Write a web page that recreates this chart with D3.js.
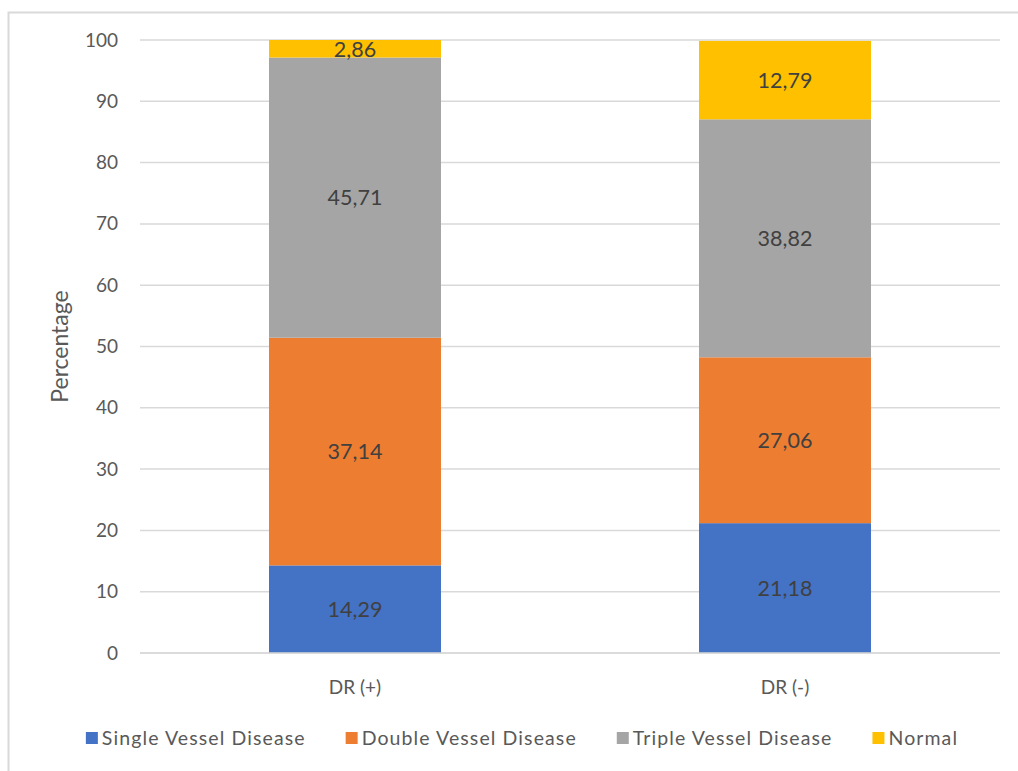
<!DOCTYPE html>
<html>
<head>
<meta charset="utf-8">
<script src="https://cdn.jsdelivr.net/npm/d3@7"></script>
<style>
  html, body { margin: 0; padding: 0; background: #fff; }
  svg { display: block; font-family: Lato, "Open Sans", "Liberation Sans", sans-serif; }
</style>
</head>
<body>
<svg id="chart" width="1018" height="771"></svg>
<script>
// Coronary findings by diabetic retinopathy status (percent of patients)
const groups = ["DR (+)", "DR (-)"];
const seriesNames = ["Single Vessel Disease", "Double Vessel Disease", "Triple Vessel Disease", "Normal"];
const seriesColors = ["#4472C4", "#ED7D31", "#A5A5A5", "#FFC000"];
const singleVessel = [14.29, 21.18];
const doubleVessel = [37.14, 27.06];
const tripleVessel = [45.71, 38.82];
const normal = [2.86, 12.79];
const yTicks = [0, 10, 20, 30, 40, 50, 60, 70, 80, 90, 100];
const yLabel = "Percentage";

const seriesValues = [singleVessel, doubleVessel, tripleVessel, normal];
const rows = groups.map((g, i) => {
  const r = { group: g };
  seriesNames.forEach((s, k) => { r[s] = seriesValues[k][i]; });
  return r;
});
const stacked = d3.stack().keys(seriesNames)(rows);

const svg = d3.select("#chart");
const W = 1018, H = 771;
const plot = { left: 140, right: 1000, top: 40, bottom: 653 };

// outer chart frame
svg.append("rect")
  .attr("x", 8.5).attr("y", 12.5)
  .attr("width", W + 20).attr("height", H + 20)
  .attr("fill", "none").attr("stroke", "#D9D9D9").attr("stroke-width", 2);

const x = d3.scaleBand().domain(groups)
  .range([plot.left, plot.right]).paddingInner(0.6).paddingOuter(0.3);
const y = d3.scaleLinear().domain([0, 100]).range([plot.bottom, plot.top]);

// gridlines
svg.append("g")
  .selectAll("line").data(yTicks).join("line")
  .attr("x1", plot.left).attr("x2", plot.right)
  .attr("y1", d => y(d)).attr("y2", d => y(d))
  .attr("stroke", "#D9D9D9").attr("stroke-width", 1.5);

// y axis labels
const yAxis = svg.append("g")
  .attr("transform", `translate(${plot.left - 22},0)`)
  .call(d3.axisLeft(y).tickValues(yTicks).tickSize(0).tickPadding(0));
yAxis.select(".domain").remove();
yAxis.selectAll("text")
  .attr("font-size", 19).attr("fill", "#595959")
  .attr("font-family", "Lato, 'Open Sans', sans-serif");

// bars
const layer = svg.append("g").selectAll("g").data(stacked).join("g")
  .attr("fill", (d, i) => seriesColors[i]);
layer.selectAll("rect").data(d => d).join("rect")
  .attr("x", d => x(d.data.group))
  .attr("width", x.bandwidth())
  .attr("y", d => y(d[1]))
  .attr("height", d => y(d[0]) - y(d[1]));

// value labels
const fmt = v => v.toFixed(2).replace(".", ",");
stacked.forEach((s, k) => {
  svg.append("g").selectAll("text").data(s).join("text")
    .attr("x", d => x(d.data.group) + x.bandwidth() / 2)
    .attr("y", d => (y(d[0]) + y(d[1])) / 2)
    .attr("dy", "0.36em")
    .attr("text-anchor", "middle")
    .attr("font-size", 21.5)
    .attr("fill", "#404040")
    .text(d => fmt(d.data[s.key]));
});

// x axis baseline and category labels
svg.append("line")
  .attr("x1", plot.left).attr("x2", plot.right)
  .attr("y1", y(0)).attr("y2", y(0))
  .attr("stroke", "#D9D9D9").attr("stroke-width", 1.5);
svg.append("g").selectAll("text").data(groups).join("text")
  .attr("x", d => x(d) + x.bandwidth() / 2)
  .attr("y", 694)
  .attr("text-anchor", "middle")
  .attr("font-size", 19).attr("fill", "#595959")
  .text(d => d);

// y axis title
svg.append("text")
  .attr("transform", `translate(68,${(plot.top + plot.bottom) / 2}) rotate(-90)`)
  .attr("text-anchor", "middle")
  .attr("font-size", 23).attr("fill", "#595959")
  .text(yLabel);

// legend
const legend = svg.append("g");
const items = legend.selectAll("g").data(seriesNames).join("g");
items.append("rect")
  .attr("width", 12).attr("height", 12).attr("y", -6)
  .attr("fill", (d, i) => seriesColors[i]);
items.append("text")
  .attr("x", 16).attr("dy", "0.35em")
  .attr("font-size", 19.5).attr("letter-spacing", 1.1).attr("fill", "#595959")
  .text(d => d);
let cursor = 0;
const gap = 40;
const widths = [];
items.each(function () {
  widths.push(16 + this.querySelector("text").getComputedTextLength());
});
const total = d3.sum(widths) + gap * (widths.length - 1);
const startX = 522 - total / 2;
items.attr("transform", (d, i) => {
  const tx = startX + cursor;
  cursor += widths[i] + gap;
  return `translate(${tx},738)`;
});
</script>
</body>
</html>
